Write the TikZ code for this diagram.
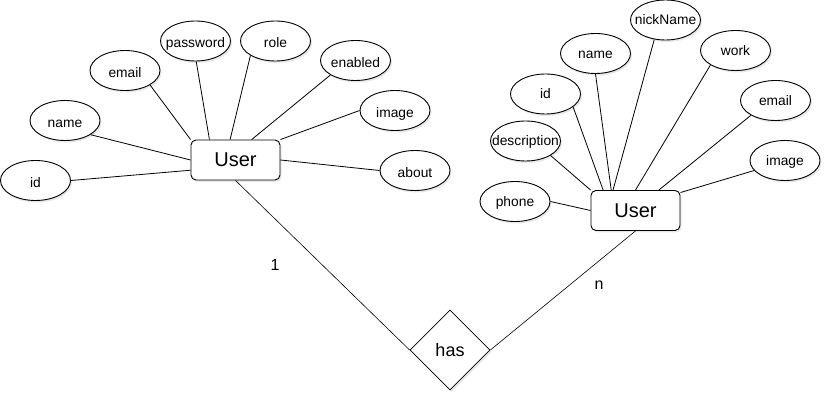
\documentclass[tikz,border=0pt]{standalone}
\usepackage{fontspec}
\setmainfont{Liberation Sans}
\usetikzlibrary{shapes.geometric,calc,shadows}
\newcommand\attrtext[1]{\makebox[0pt][c]{#1}}
\begin{document}
\begin{tikzpicture}[x=1pt,y=-1pt,
  shade/.style={drop shadow={opacity=0.18,shadow xshift=1.5pt,shadow yshift=-2pt}},
  entity/.style={draw,line width=0.9pt,rounded corners=5pt,fill=white,shade,
    minimum width=89pt,minimum height=40pt,inner sep=0pt,font=\fontsize{20}{24}\selectfont},
  attr/.style={draw,ellipse,line width=0.9pt,fill=white,shade,
    minimum width=70pt,minimum height=40pt,inner sep=0pt,
    text height=14pt,text depth=0pt,font=\fontsize{13.8}{16}\selectfont},
  rattr/.style={attr,text height=10pt},
  rel/.style={draw,diamond,line width=0.8pt,fill=white,shade,aspect=1,
    minimum width=80pt,minimum height=80pt,inner sep=0pt,font=\fontsize{18}{22}\selectfont},
  link/.style={line width=0.8pt},
  rlink/.style={line width=0.6pt},
  card/.style={font=\fontsize{16}{19}\selectfont}]
\useasboundingbox (0,0) rectangle (832,403);

% first entity and its attributes
\node[entity] (uL) at (235.5,160) {User};
\node[attr] (lid) at (35.5,180.5) {\attrtext{id}};
\node[attr] (lname) at (65,120.5) {\attrtext{name}};
\node[attr] (lemail) at (125,70.5) {\attrtext{email}};
\node[attr] (lpass) at (195.5,41) {\attrtext{password}};
\node[attr] (lrole) at (275.5,41) {\attrtext{role}};
\node[attr] (lenab) at (355.5,60.5) {\attrtext{enabled}};
\node[attr] (limg) at (395,110.5) {\attrtext{image}};
\node[attr] (labout) at (415,170.5) {\attrtext{about}};

% second entity and its attributes
\node[entity] (uR) at (635.5,210.5) {User};
\node[rattr] (rphone) at (515,201.5) {\attrtext{phone}};
\node[rattr] (rdesc) at (525.5,141) {\attrtext{description}};
\node[rattr] (rid) at (545.5,94) {\attrtext{id}};
\node[rattr] (rname) at (595.5,53.5) {\attrtext{name}};
\node[rattr] (rnick) at (665.5,20) {\attrtext{nickName}};
\node[rattr] (rwork) at (735.5,50.5) {\attrtext{work}};
\node[rattr] (remail) at (775.5,100.5) {\attrtext{email}};
\node[rattr] (rimg) at (785,160.5) {\attrtext{image}};

% relationship
\node[rel] (has) at (450,350) {has};

% attribute connectors, first entity
\draw[link] (lid.east) -- ($(uL.west)!0.5!(uL.south west)$);
\draw[link] (lname.-29) -- (uL.west);
\draw[link] (lemail.-30) -- (uL.north west);
\draw[link] (lpass.-88) -- ($(uL.north west)!0.21!(uL.north east)$);
\draw[link] (lrole.-150) -- ($(uL.north west)!0.44!(uL.north east)$);
\draw[link] (lenab.-150) -- ($(uL.north west)!0.68!(uL.north east)$);
\draw[link] (limg.west) -- (uL.north east);
\draw[link] (labout.west) -- (uL.east);

% attribute connectors, second entity
\draw[link] (rphone.east) -- (uR.west);
\draw[link] (rdesc.-30) -- (uR.north west);
\draw[link] (rid.-25) -- ($(uR.north west)!0.14!(uR.north east)$);
\draw[link] (rname.south) -- ($(uR.north west)!0.23!(uR.north east)$);
\draw[link] (rnick.-120) -- ($(uR.north west)!0.25!(uR.north east)$);
\draw[link] (rwork.-150) -- (uR.north);
\draw[link] (remail.-149) -- ($(uR.north west)!0.76!(uR.north east)$);
\draw[link] (rimg.-162) -- ($(uR.north east)+(0,2.5)$);

% relationship connectors and cardinalities
\draw[rlink] (uL.south) -- (has.west);
\draw[rlink] (uR.south) -- (has.east);
\node[card] (c1) at (275,265) {1};
\node[card] (cn) at (599,285) {n};
\end{tikzpicture}
\end{document}
